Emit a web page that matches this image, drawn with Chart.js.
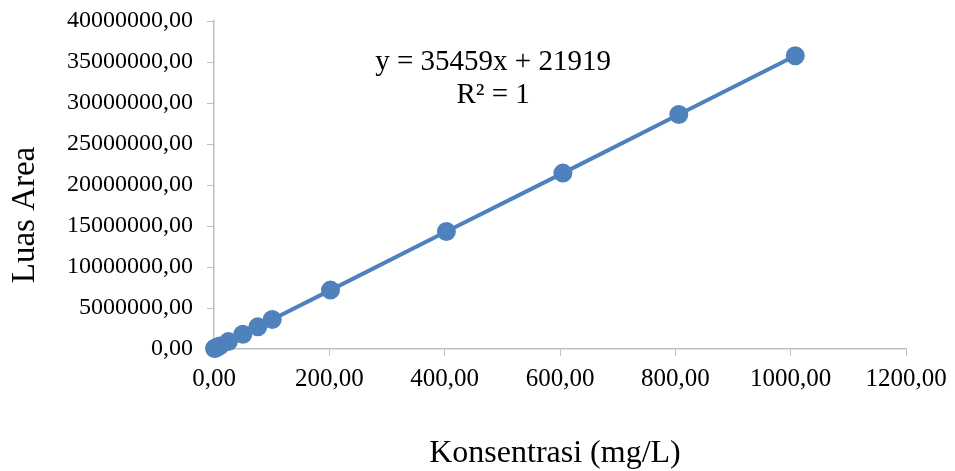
<!DOCTYPE html>
<html>
<head>
<meta charset="utf-8">
<script src="https://cdn.jsdelivr.net/npm/chart.js@4/dist/chart.umd.min.js"></script>
<style>
  html, body { margin: 0; padding: 0; background: #fff; }
  #wrap { width: 955px; height: 471px; }
</style>
</head>
<body>
<div id="wrap"><canvas id="calib"></canvas></div>
<script>
// data
const konsentrasi = [1, 2, 5, 10, 25, 50, 76, 101, 202, 403, 605, 806, 1008];
const luasArea = [60000, 95000, 200000, 380000, 900000, 1800000, 2700000, 3600000,
  7180000, 14330000, 21450000, 28600000, 35760000];
const trendX = [1, 1008];
const trendY = [57000, 35760000];
const xTicks = [0, 200, 400, 600, 800, 1000, 1200];
const yTicks = [0, 5000000, 10000000, 15000000, 20000000, 25000000, 30000000, 35000000, 40000000];
const eqLines = ["y = 35459x + 21919", "R² = 1"];
const xTitle = "Konsentrasi (mg/L)";
const yTitle = "Luas Area";

const blue = "#4f81bd";
const grey = "#bfbfbf";
const serif = "'Liberation Serif', 'Times New Roman', serif";

function koma(v) {
  return Number(v).toFixed(2).replace(".", ",");
}

// equation box + axis titles, placed like the excel original
const labels = {
  id: "labels",
  afterDraw(chart) {
    const ctx = chart.ctx;
    const x = chart.scales.x.getPixelForValue(484);
    const y = chart.scales.y.getPixelForValue(35000000);
    ctx.save();
    ctx.fillStyle = "#000";
    ctx.font = "29px " + serif;
    ctx.textAlign = "center";
    ctx.textBaseline = "middle";
    ctx.fillText(eqLines[0], x, y);
    ctx.fillText(eqLines[1], x, y + 33);

    ctx.textBaseline = "alphabetic";
    ctx.font = "32px " + serif;
    ctx.fillText(xTitle, 555, 462);

    ctx.font = "33px " + serif;
    ctx.translate(34, 215);
    ctx.rotate(-Math.PI / 2);
    ctx.fillText(yTitle, 0, 0);
    ctx.restore();
  },
};

const chart = new Chart(document.getElementById("calib"), {
  type: "scatter",
  data: {
    datasets: [
      {
        label: "Luas Area",
        data: konsentrasi.map((k, i) => ({ x: k, y: luasArea[i] })),
        showLine: true,
        borderColor: blue,
        backgroundColor: blue,
        borderWidth: 4,
        pointRadius: 7.5,
        pointHoverRadius: 7.5,
        clip: false,
        order: 1,
      },
      {
        label: "Linear",
        data: trendX.map((k, i) => ({ x: k, y: trendY[i] })),
        showLine: true,
        borderColor: blue,
        borderWidth: 2,
        borderDash: [2, 2],
        pointRadius: 0,
        clip: false,
        order: 2,
      },
    ],
  },
  options: {
    responsive: true,
    maintainAspectRatio: false,
    animation: false,
    layout: { padding: { top: 21, right: 49, left: 0, bottom: 0 } },
    plugins: { legend: { display: false }, tooltip: { enabled: false } },
    scales: {
      x: {
        type: "linear",
        min: 0,
        max: 1200,
        afterBuildTicks: (s) => { s.ticks = xTicks.map((v) => ({ value: v })); },
        afterFit: (s) => {
          s.height = 122;
          s.paddingLeft = 0;
          s.paddingRight = 0;
        },
        ticks: {
          callback: koma,
          color: "#000",
          font: { family: serif, size: 25 },
          padding: 8,
          maxRotation: 0,
        },
        grid: { drawOnChartArea: false, drawTicks: true, tickLength: 7, color: grey },
        border: { color: grey, width: 1.5 },
      },
      y: {
        type: "linear",
        min: 0,
        max: 40000000,
        afterBuildTicks: (s) => { s.ticks = yTicks.map((v) => ({ value: v })); },
        afterFit: (s) => {
          s.width = 214;
          s.paddingTop = 0;
          s.paddingBottom = 0;
        },
        ticks: {
          callback: koma,
          color: "#000",
          font: { family: serif, size: 24 },
          padding: 14,
        },
        grid: { drawOnChartArea: false, drawTicks: true, tickLength: 7, color: grey },
        border: { color: grey, width: 1.5 },
      },
    },
  },
  plugins: [labels],
});
</script>
</body>
</html>
